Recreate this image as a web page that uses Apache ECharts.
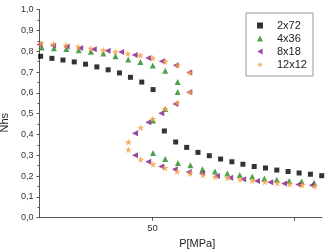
<!DOCTYPE html>
<html>
<head>
<meta charset="utf-8">
<script src="https://cdn.jsdelivr.net/npm/echarts@6/dist/echarts.min.js"></script>
<style>html,body{margin:0;padding:0;background:#fff}#c{width:328px;height:250px}</style>
</head>
<body>
<div id="c"></div>
<script>
// Series names
var seriesNames = ['2x72', '4x36', '8x18', '12x12'];

// 2x72 (black squares)
var p2x72 = [10.4,14.4,18.3,22.3,26.3,30.3,34.3,38.3,42.2,46.2,50.2,54.2,58.2,62.1,66.1,70.1,74.1,78.1,82.0,86.0,90.0,94.0,98.0,101.9,105.9,109.9];
var n2x72 = [0.776,0.766,0.758,0.749,0.738,0.725,0.711,0.696,0.675,0.652,0.616,0.417,0.364,0.338,0.314,0.298,0.282,0.269,0.257,0.246,0.239,0.229,0.222,0.215,0.209,0.202];

// 4x36 (green triangles)
var p4x36 = [10.8,15.1,19.5,23.9,28.2,32.6,36.9,41.4,45.7,50.1,54.5,58.9,58.9,54.5,50.2,50.2,54.5,59.0,63.4,67.7,72.1,76.5,80.9,85.3,89.6,94.0,98.4,102.8,107.2];
var n4x36 = [0.818,0.815,0.811,0.805,0.798,0.789,0.776,0.761,0.748,0.732,0.706,0.653,0.604,0.523,0.467,0.311,0.282,0.263,0.252,0.233,0.222,0.213,0.205,0.198,0.189,0.183,0.177,0.174,0.168];

// 8x18 (purple left triangles)
var p8x18 = [10.0,14.8,19.6,24.4,29.2,34.1,38.9,43.7,48.5,53.3,58.2,63.0,63.0,58.1,53.1,48.5,43.8,43.8,48.5,53.1,57.9,62.8,67.5,72.8,77.5,82.1,87.0,91.7,96.6,101.6,106.4];
var n8x18 = [0.833,0.828,0.823,0.816,0.810,0.803,0.797,0.782,0.768,0.752,0.733,0.698,0.603,0.547,0.502,0.459,0.406,0.300,0.269,0.246,0.233,0.220,0.214,0.200,0.192,0.185,0.177,0.170,0.164,0.160,0.156];

// 12x12 (orange stars)
var p12x12 = [10.5,14.9,19.3,23.7,28.1,32.5,36.9,41.3,45.7,50.1,54.5,58.9,63.3,63.3,58.7,54.5,50.0,45.8,41.5,41.5,45.8,50.2,54.4,58.7,63.3,67.8,72.2,76.6,81.0,85.4,89.8,94.2,98.6,103.0,107.4];
var n12x12 = [0.838,0.834,0.829,0.822,0.814,0.806,0.798,0.789,0.781,0.767,0.751,0.732,0.698,0.604,0.553,0.523,0.475,0.433,0.364,0.327,0.280,0.257,0.239,0.222,0.213,0.205,0.197,0.191,0.184,0.178,0.172,0.167,0.162,0.157,0.152];

// Axis ticks
var xTicks = [50, 100];
var xTickLabels = [50];

function pairs(xs, ys) { return xs.map(function (x, i) { return [x, ys[i]]; }); }

var starPath = 'path://M50 0 L61.76 33.82 L97.55 34.55 L69.02 56.18 L79.39 90.45 L50 70 L20.61 90.45 L30.98 56.18 L2.45 34.55 L38.24 33.82 Z';
var leftTriPath = 'path://M0 50 L87 0 L87 100 Z';
var FONT = '"Liberation Sans", Arial, sans-serif';

var chart = echarts.init(document.getElementById('c'), null, {renderer: 'canvas'});
chart.setOption({
  animation: false,
  backgroundColor: '#fff',
  textStyle: {fontFamily: FONT},
  grid: {left: 39.5, right: 6, top: 9.7, bottom: 32.3, containLabel: false, outerBoundsMode: 'none'},
  legend: {
    orient: 'vertical',
    left: 246, top: 13,
    data: seriesNames,
    borderColor: '#9a9a9a', borderWidth: 1,
    padding: [6, 6, 5, 11],
    itemWidth: 6, itemHeight: 6,
    itemGap: 0,
    textStyle: {fontSize: 11, color: '#222', fontFamily: FONT, lineHeight: 13, padding: [0, 0, 0, 9]}
  },
  xAxis: {
    type: 'value', min: 10, max: 110,
    name: 'P[MPa]', nameLocation: 'middle', nameGap: 21,
    nameTextStyle: {fontSize: 11, color: '#222', fontFamily: FONT, padding: [0, 0, 0, 33]},
    axisLine: {show: true, lineStyle: {color: '#555', width: 1}},
    axisTick: {show: true, inside: false, length: 3, customValues: xTicks, lineStyle: {color: '#555'}},
    axisLabel: {fontSize: 9.5, color: '#333', margin: 6, customValues: xTickLabels, fontFamily: FONT},
    splitLine: {show: false}
  },
  yAxis: {
    type: 'value', min: 0, max: 1, interval: 0.1,
    name: 'Nhs', nameLocation: 'middle', nameGap: 28, nameRotate: 90,
    nameTextStyle: {fontSize: 11, color: '#222', fontFamily: FONT, padding: [0, 18, 0, 0]},
    axisLine: {show: true, lineStyle: {color: '#555', width: 1}},
    axisTick: {show: true, inside: false, length: 3, lineStyle: {color: '#555'}},
    minorTick: {show: true, splitNumber: 2, length: 2, lineStyle: {color: '#555'}},
    axisLabel: {fontSize: 9, color: '#333', margin: 6, fontFamily: FONT,
      formatter: function (v) { return v.toFixed(1).replace('.', ','); }},
    splitLine: {show: false}
  },
  series: [
    {name: seriesNames[0], type: 'scatter', clip: false, symbol: 'rect', symbolSize: 5,
      itemStyle: {color: '#000'}, data: pairs(p2x72, n2x72)},
    {name: seriesNames[1], type: 'scatter', clip: false, symbol: 'triangle', symbolSize: 6,
      itemStyle: {color: '#1f8a1f'}, data: pairs(p4x36, n4x36)},
    {name: seriesNames[2], type: 'scatter', clip: false, symbol: leftTriPath, symbolSize: 6,
      itemStyle: {color: '#7d1a8c'}, data: pairs(p8x18, n8x18)},
    {name: seriesNames[3], type: 'scatter', clip: false, symbol: starPath, symbolSize: 7,
      itemStyle: {color: '#f4a040'}, data: pairs(p12x12, n12x12)}
  ]
});
</script>
</body>
</html>
